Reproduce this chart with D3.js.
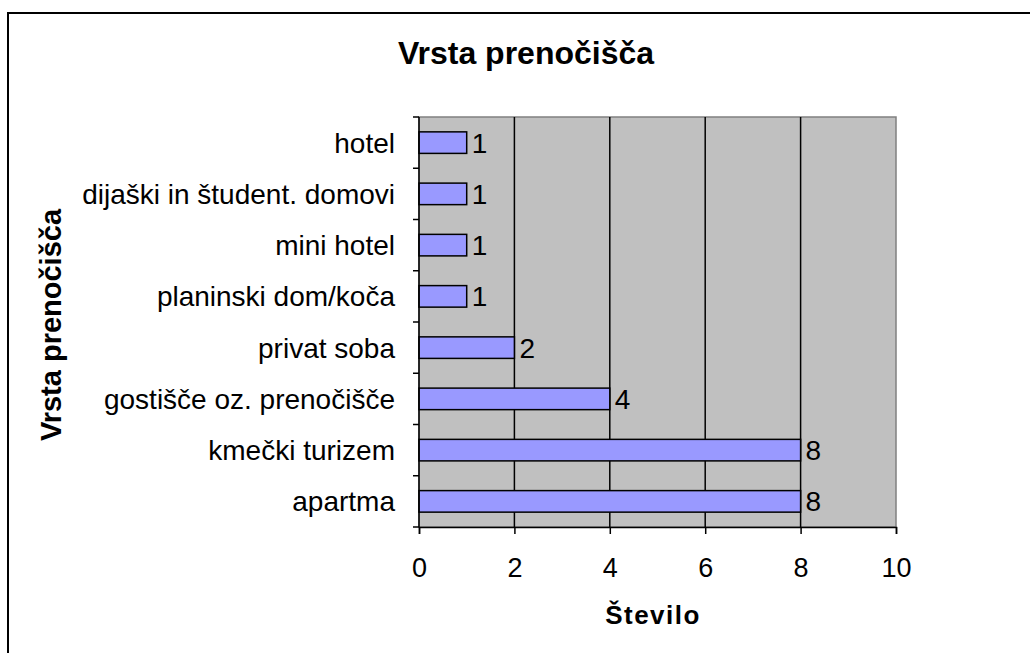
<!DOCTYPE html>
<html>
<head>
<meta charset="utf-8">
<script src="https://cdn.jsdelivr.net/npm/d3@7/dist/d3.min.js"></script>
<style>
  body { margin: 0; background: #fff; }
  text { font-family: "Liberation Sans", Arial, sans-serif; fill: #000; }
</style>
</head>
<body>
<div id="chart"></div>
<script>
// data
var categories = ["hotel", "dijaški in študent. domovi", "mini hotel", "planinski dom/koča",
  "privat soba", "gostišče oz. prenočišče", "kmečki turizem", "apartma"];
var values = [1, 1, 1, 1, 2, 4, 8, 8];
var xTicks = [0, 2, 4, 6, 8, 10];

var svgWidth = 1030;
var svgHeight = 653;

var plot = { left: 419, top: 117, right: 896, bottom: 527 };

var svg = d3.select("#chart")
  .append("svg")
  .attr("width", svgWidth)
  .attr("height", svgHeight);

// outer frame (runs off the right and bottom edge)
svg.append("rect")
  .attr("x", 8)
  .attr("y", 13)
  .attr("width", 1040)
  .attr("height", 660)
  .attr("fill", "none")
  .attr("stroke", "#000")
  .attr("stroke-width", 2);

var x = d3.scaleLinear()
  .domain([0, 10])
  .range([plot.left, plot.right]);

var y = d3.scaleBand()
  .domain(categories)
  .range([plot.top, plot.bottom])
  .paddingInner(0.58)
  .paddingOuter(0.29);

var yEdges = d3.scaleLinear()
  .domain([0, categories.length])
  .range([plot.top, plot.bottom]);

// plot background
svg.append("rect")
  .attr("x", plot.left)
  .attr("y", plot.top)
  .attr("width", plot.right - plot.left)
  .attr("height", plot.bottom - plot.top)
  .attr("fill", "#c0c0c0")
  .attr("stroke", "#808080")
  .attr("stroke-width", 1.5);

// vertical grid lines
svg.append("g")
  .selectAll("line")
  .data(xTicks.filter(d => d > 0 && d < 10))
  .enter()
  .append("line")
  .attr("x1", d => x(d))
  .attr("x2", d => x(d))
  .attr("y1", plot.top)
  .attr("y2", plot.bottom)
  .attr("stroke", "#000")
  .attr("stroke-width", 1.5);

// bars
svg.append("g")
  .selectAll("rect")
  .data(values)
  .enter()
  .append("rect")
  .attr("x", x(0))
  .attr("y", (d, i) => y(categories[i]))
  .attr("width", d => x(d) - x(0))
  .attr("height", y.bandwidth())
  .attr("fill", "#9999ff")
  .attr("stroke", "#000")
  .attr("stroke-width", 1.5);

// value labels
svg.append("g")
  .selectAll("text")
  .data(values)
  .enter()
  .append("text")
  .attr("x", d => x(d) + 5)
  .attr("y", (d, i) => y(categories[i]) + y.bandwidth() / 2)
  .attr("dy", "0.36em")
  .style("font-size", "28px")
  .text(d => d);

// left axis line + ticks at category boundaries
var yAxis = svg.append("g");
yAxis.append("line")
  .attr("x1", plot.left).attr("x2", plot.left)
  .attr("y1", plot.top).attr("y2", plot.bottom)
  .attr("stroke", "#000").attr("stroke-width", 1.5);
yAxis.selectAll(".tk")
  .data(d3.range(categories.length + 1))
  .enter()
  .append("line")
  .attr("x1", plot.left - 6).attr("x2", plot.left)
  .attr("y1", d => yEdges(d)).attr("y2", d => yEdges(d))
  .attr("stroke", "#000").attr("stroke-width", 1.5);
yAxis.selectAll("text")
  .data(categories)
  .enter()
  .append("text")
  .attr("x", plot.left - 24)
  .attr("y", d => y(d) + y.bandwidth() / 2)
  .attr("dy", "0.36em")
  .attr("text-anchor", "end")
  .style("font-size", "28px")
  .text(d => d);

// bottom axis
var xAxis = d3.axisBottom(x).tickValues(xTicks).tickSize(7).tickPadding(24);
var gx = svg.append("g")
  .attr("transform", `translate(0, ${plot.bottom})`)
  .call(xAxis);
gx.select(".domain").attr("stroke", "#000").attr("stroke-width", 1.5);
gx.selectAll(".tick line").attr("stroke", "#000").attr("stroke-width", 1.5);
gx.selectAll(".tick text")
  .style("font-size", "27px")
  .style("font-family", "'Liberation Sans', Arial, sans-serif")
  .attr("fill", "#000");

// titles
svg.append("text")
  .attr("x", 526)
  .attr("y", 64)
  .attr("text-anchor", "middle")
  .style("font-size", "32px")
  .style("font-weight", "bold")
  .text("Vrsta prenočišča");

svg.append("text")
  .attr("transform", "translate(61, 325) rotate(-90)")
  .attr("text-anchor", "middle")
  .style("font-size", "29px")
  .style("font-weight", "bold")
  .text("Vrsta prenočišča");

svg.append("text")
  .attr("x", 653)
  .attr("y", 624)
  .attr("text-anchor", "middle")
  .style("font-size", "26px")
  .style("font-weight", "bold")
  .style("letter-spacing", "1.5px")
  .text("Število");
</script>
</body>
</html>
